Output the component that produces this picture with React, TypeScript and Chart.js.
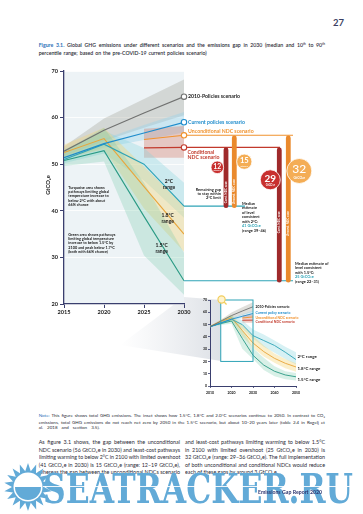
import React, { useEffect, useLayoutEffect, useRef } from 'react';
import { Chart, registerables } from 'chart.js';
Chart.register(...registerables);

// ---------------- data (main chart) ----------------
const years = [2015, 2020, 2025, 2030];
const policies2010 = [52.8, 57.3, 61.0, 64.5];
const policies2010Low = [51.8, 55.0, 57.8, 60.5];
const policies2010High = [53.8, 59.8, 64.0, 68.2];
const currentPolicies = [51.4, 54.4, 56.7, 59.0];
const currentLow = [51.0, 53.6, 55.2, 56.8];
const currentHigh = [51.9, 55.4, 58.4, 61.2];
const ndcYears = [2025, 2030];
const uncondNDC = [55.3, 56.2];
const condNDC = [53.5, 53.6];
const ndcLow = [51.4, 51.4];
const ndcHigh = [57.6, 58.2];
const path2C = [51.0, 54.3, 50.0, 41.0];
const path2CLow = [50.2, 52.3, 46.5, 38.5];
const path2CHigh = [53.2, 57.2, 53.5, 46.0];
const path18 = [52.5, 55.5, 45.2, 35.0];
const path18Low = [51.2, 53.2, 40.5, 31.2];
const path18High = [54.2, 57.8, 49.5, 41.0];
const path15 = [50.8, 52.9, 38.8, 25.0];
const path15Low = [49.6, 50.6, 30.4, 22.0];
const path15High = [52.8, 57.8, 46.0, 31.0];

const xTicks = [2015, 2020, 2025, 2030];
const yTicks = [20, 30, 40, 50, 60, 70];

const scenarioNames = ['2010-Policies scenario', 'Current policies scenario', 'Unconditional NDC scenario', 'Conditional NDC scenario'];
const scenario2030 = [64.5, 59.0, 56.2, 53.6];
const target2C = 41;
const target15 = 25;
const gapBarTops = [53.6, 56.2, 53.6, 56.2];
const gapBarBottoms = [41, 41, 25, 25];
const gapBarNames = ['Cond. NDC case', 'Uncond. NDC case', 'Cond. NDC case', 'Uncond. NDC case'];
const gapValues = ['12', '15', '29', '32'];

// ---------------- data (inset) ----------------
const insetYears = [2010, 2015, 2020, 2025, 2030, 2035, 2040, 2045, 2050];
const insetPolicyYears = [2010, 2015, 2020, 2025, 2030];
const insetPolicies2010 = [48.2, 52.8, 57.3, 61.0, 64.5];
const insetPolicies2010Low = [47.8, 51.8, 55.0, 57.8, 60.5];
const insetPolicies2010High = [48.6, 53.8, 59.8, 64.0, 68.2];
const insetCurrent = [48.0, 51.4, 54.4, 56.7, 59.0];
const insetCurrentLow = [47.7, 51.0, 53.6, 55.2, 56.8];
const insetCurrentHigh = [48.3, 51.9, 55.4, 58.4, 61.2];
const inset2C = [48.5, 51.0, 54.3, 50.0, 41.0, 37.0, 33.0, 27.5, 21.5];
const inset2CLow = [48.0, 50.2, 52.3, 46.5, 38.5, 32.0, 27.0, 22.0, 17.5];
const inset2CHigh = [49.0, 53.2, 57.2, 53.5, 46.0, 42.0, 37.0, 32.0, 27.5];
const inset18 = [48.5, 52.5, 55.5, 45.2, 35.0, 28.0, 22.5, 18.5, 15.5];
const inset18Low = [48.0, 51.2, 53.2, 40.5, 31.2, 24.0, 19.0, 14.5, 11.5];
const inset18High = [49.0, 54.2, 57.8, 49.5, 41.0, 33.0, 26.5, 22.0, 18.5];
const inset15 = [48.5, 50.8, 52.9, 38.8, 25.0, 17.0, 12.0, 9.0, 7.5];
const inset15Low = [48.0, 49.6, 50.6, 30.4, 22.0, 13.0, 8.0, 5.5, 4.5];
const inset15High = [49.0, 52.8, 57.8, 46.0, 31.0, 23.0, 16.0, 12.0, 10.5];
const insetXTicks = [2010, 2020, 2030, 2040, 2050];
const insetYTicks = [0, 10, 20, 30, 40, 50, 60, 70];
const insetScenarioNames = ['2010-Policies scenario', 'Current policy scenario', 'Unconditional NDC scenario', 'Conditional NDC scenario'];
const insetRangeNames = ['2°C range', '1.8°C range', '1.5°C range'];

// ---------------- style ----------------
const FONT = 'Lato, "Open Sans", "DejaVu Sans", sans-serif';
const NAVY = '#3a3f6e';
const GRAY_LINE = '#707170';
const BLUE = '#1f8ccc';
const ORANGE = '#f0922e';
const RED = '#c23a2c';
const TEAL = '#2ea3b6';
const YEL = '#e9a53a';
const GREEN = '#2a9a84';
const DARKRED = '#9f2a2b';
const BARORANGE = '#ea8a2d';
const CIRC_ORANGE = '#f4ad55';
const CIRC_RED = '#c8302f';
const INK = '#1b1b1b';
const WM = '#62aad7';

const BAND_GRAY = 'rgba(160,160,150,0.34)';
const BAND_CUR = 'rgba(150,210,235,0.4)';
const BAND_NDC = 'rgba(215,115,95,0.34)';
const BAND_2C = 'rgba(130,210,220,0.32)';
const BAND_18 = 'rgba(245,210,110,0.36)';
const BAND_15 = 'rgba(110,200,165,0.27)';

function pts(xs: number[], ys: number[]) {
  return xs.map((x, i) => ({ x, y: ys[i] }));
}
function lineDs(xs: number[], ys: number[], color: string, width: number) {
  return { data: pts(xs, ys), borderColor: color, borderWidth: width, pointRadius: 0, fill: false, tension: 0, order: 0 };
}
function bandDs(xs: number[], hi: number[], lo: number[], color: string, order: number) {
  return [
    { data: pts(xs, hi), borderColor: 'rgba(0,0,0,0)', borderWidth: 0, pointRadius: 0, fill: '+1', backgroundColor: color, tension: 0, order },
    { data: pts(xs, lo), borderColor: 'rgba(0,0,0,0)', borderWidth: 0, pointRadius: 0, fill: false, tension: 0, order },
  ];
}

function txt(ctx: CanvasRenderingContext2D, s: string, x: number, y: number, size: number, color: string, align: CanvasTextAlign = 'left', weight = 'bold') {
  ctx.font = `${weight} ${size}px ${FONT}`;
  ctx.fillStyle = color;
  ctx.textAlign = align;
  ctx.textBaseline = 'middle';
  ctx.fillText(s, x, y);
}

const mainPlugin = {
  id: 'mainDecor',
  beforeDraw(chart: any) {
    const { ctx, chartArea: a } = chart;
    ctx.save();
    ctx.fillStyle = '#edf3f6';
    ctx.fillRect(a.left, a.top, a.right - a.left, a.bottom - a.top);
    ctx.restore();
  },
  afterDatasetsDraw(chart: any) {
    const { ctx, scales } = chart;
    const Y = (v: number) => scales.y.getPixelForValue(v);
    const X = (v: number) => scales.x.getPixelForValue(v);
    const x30 = X(2030);
    ctx.save();
    const hline = (v: number, len: number, color: string) => {
      ctx.strokeStyle = color;
      ctx.lineWidth = 1.1;
      ctx.beginPath();
      ctx.moveTo(x30, Y(v));
      ctx.lineTo(x30 + len, Y(v));
      ctx.stroke();
    };
    hline(scenario2030[2], 109, ORANGE);
    hline(scenario2030[3], 96, RED);
    hline(target2C, 61, TEAL);
    hline(target15, 109, TEAL);

    // gap bars
    const barDx = [42, 50.3, 95.3, 104.3];
    const barColor = [DARKRED, BARORANGE, DARKRED, BARORANGE];
    const nameStart = [Y(target2C) - 3, Y(target2C) - 2, Y(target2C) + 27, Y(target2C) + 30];
    gapBarTops.forEach((top, i) => {
      const bx = x30 + barDx[i];
      const t = Y(top) + 2.6;
      const b = Y(gapBarBottoms[i]) - 0.5;
      ctx.strokeStyle = barColor[i];
      ctx.lineWidth = 4.8;
      ctx.lineCap = 'round';
      ctx.beginPath();
      ctx.moveTo(bx, t);
      ctx.lineTo(bx, b);
      ctx.stroke();
      ctx.save();
      ctx.translate(bx + 0.2, nameStart[i]);
      ctx.rotate(-Math.PI / 2);
      txt(ctx, gapBarNames[i], 0, 0, 3, '#ffffff', 'left');
      ctx.restore();
    });
    ctx.lineCap = 'butt';

    // gap bubbles
    const bub = [
      { dx: 33.3, y: 167.3, r: 6.3, c: CIRC_RED, fs: 6.8 },
      { dx: 60.3, y: 161.7, r: 7.6, c: CIRC_ORANGE, fs: 7.6 },
      { dx: 86.3, y: 179.8, r: 10, c: CIRC_RED, fs: 10 },
      { dx: 115.3, y: 171, r: 12.5, c: CIRC_ORANGE, fs: 12 },
    ];
    bub.forEach((b, i) => {
      const cx = x30 + b.dx;
      ctx.beginPath();
      ctx.arc(cx, b.y, b.r, 0, Math.PI * 2);
      ctx.fillStyle = b.c;
      ctx.fill();
      ctx.lineWidth = 0.8;
      ctx.strokeStyle = '#ffffff';
      ctx.stroke();
      txt(ctx, gapValues[i], cx, b.y - b.r * 0.15, b.fs, '#ffffff', 'center', i === 3 ? '500' : 'bold');
      txt(ctx, 'GtCO₂e', cx, b.y + b.r * 0.55, Math.max(2.2, b.r * 0.27), '#ffffff', 'center', 'bold');
    });

    // scenario rings at 2030
    const scColor = [GRAY_LINE, BLUE, ORANGE, RED];
    scenario2030.forEach((v, i) => {
      ctx.beginPath();
      ctx.arc(x30, Y(v), 2.7, 0, Math.PI * 2);
      ctx.fillStyle = '#ffffff';
      ctx.fill();
      ctx.lineWidth = 1.1;
      ctx.strokeStyle = scColor[i];
      ctx.stroke();
    });
    txt(ctx, scenarioNames[0], x30 + 4, Y(scenario2030[0]), 5.2, INK);
    txt(ctx, scenarioNames[1], x30 + 4, Y(scenario2030[1]), 5.2, BLUE);
    txt(ctx, scenarioNames[2], x30 + 4, Y(scenario2030[2]) - 3.6, 5.2, ORANGE);
    const condParts = scenarioNames[3].split(' ');
    txt(ctx, condParts[0], x30 + 3.5, Y(scenario2030[3]) + 4.4, 5.2, RED);
    txt(ctx, condParts.slice(1).join(' '), x30 + 3.5, Y(scenario2030[3]) + 9.6, 5.2, RED);

    // range labels inside the chart
    txt(ctx, '2°C', 169, 181, 5, INK, 'center');
    txt(ctx, 'range', 169, 187.6, 5, INK, 'center');
    txt(ctx, '1.8°C', 167.7, 215, 5, INK, 'center');
    txt(ctx, 'range', 167.7, 221.3, 5, INK, 'center');
    txt(ctx, '1.5°C', 161.7, 245, 5, INK, 'center');
    txt(ctx, 'range', 161.7, 251.5, 5, INK, 'center');

    const turq = ['Turquoise area shows', 'pathways limiting global', 'temperature increase to', 'below 2°C with about', '66% chance'];
    turq.forEach((s, i) => txt(ctx, s, 68.3, 187.3 + i * 4.4, 3.8, INK));
    const green = ['Green area shows pathways', 'limiting global temperature', 'increase to below 1.5°C by', '2100 and peak below 1.7°C', '(both with 66% chance)'];
    green.forEach((s, i) => txt(ctx, s, 68.3, 234.3 + i * 4.4, 3.8, INK));

    // right-hand notes
    const rem = ['Remaining gap', 'to stay within', '2°C limit'];
    rem.forEach((s, i) => txt(ctx, s, x30 + 37, 189.3 + i * 4, 3.9, INK, 'right'));
    const med2 = ['Median', 'estimate', 'of level', 'consistent', 'with 2°C:', '41 GtCO₂e', '(range 39–46)'];
    med2.forEach((s, i) => txt(ctx, s, x30 + 58, 203.3 + i * 4.5, 3.9, i === 5 ? TEAL : INK));
    const med15 = ['Median estimate of', 'level consistent', 'with 1.5°C:', '25 GtCO₂e', '(range 22–31)'];
    med15.forEach((s, i) => txt(ctx, s, x30 + 111, 263.3 + i * 4.6, 3.9, i === 3 ? TEAL : INK));

    // y axis title
    ctx.save();
    ctx.translate(48, 185);
    ctx.rotate(-Math.PI / 2);
    txt(ctx, 'GtCO₂e', 0, 0, 5.8, INK, 'center');
    ctx.restore();
    ctx.restore();
  },
};

const insetPlugin = {
  id: 'insetDecor',
  afterDatasetsDraw(chart: any) {
    const { ctx, scales, chartArea: a } = chart;
    const Y = (v: number) => scales.y.getPixelForValue(v);
    const X = (v: number) => scales.x.getPixelForValue(v);
    ctx.save();
    ctx.strokeStyle = TEAL;
    ctx.lineWidth = 1;
    ctx.strokeRect(X(2015), Y(70), X(2030) - X(2015), Y(20) - Y(70));
    // magnifier icon
    const mx = X(2015) + 0.8, my = Y(70) - 0.5;
    ctx.strokeStyle = '#f2cd5c';
    ctx.lineWidth = 1.2;
    ctx.beginPath();
    ctx.moveTo(mx + 2.5, my + 2.5);
    ctx.lineTo(mx + 5, my + 5);
    ctx.stroke();
    ctx.beginPath();
    ctx.arc(mx, my, 3.6, 0, Math.PI * 2);
    ctx.fillStyle = '#fdf3cf';
    ctx.fill();
    ctx.stroke();
    // labels
    const x30 = X(2030) + 2.5;
    txt(ctx, insetScenarioNames[0], x30, Y(64.5) + 0.2, 3.4, INK);
    txt(ctx, insetScenarioNames[1], x30, Y(59.3), 3.4, BLUE);
    txt(ctx, insetScenarioNames[2], x30, Y(55.7), 3.4, ORANGE);
    txt(ctx, insetScenarioNames[3], x30, Y(52.0), 3.4, RED);
    const xr = a.right + 1.5;
    txt(ctx, insetRangeNames[0], xr, Y(24.2), 4.4, INK);
    txt(ctx, insetRangeNames[1], xr, Y(13.9), 4.4, INK);
    txt(ctx, insetRangeNames[2], xr, Y(5.6), 4.4, INK);
    ctx.restore();
  },
};

function MainChart() {
  const ref = useRef<HTMLCanvasElement>(null);
  useEffect(() => {
    if (!ref.current) return;
    const chart = new Chart(ref.current, {
      type: 'line',
      data: {
        datasets: [
          ...bandDs(years, policies2010High, policies2010Low, BAND_GRAY, 20),
          ...bandDs(years, currentHigh, currentLow, BAND_CUR, 19),
          ...bandDs(ndcYears, ndcHigh, ndcLow, BAND_NDC, 18),
          ...bandDs(years, path2CHigh, path2CLow, BAND_2C, 17),
          ...bandDs(years, path18High, path18Low, BAND_18, 16),
          ...bandDs(years, path15High, path15Low, BAND_15, 15),
          lineDs(years, policies2010, GRAY_LINE, 1.1),
          lineDs(years, currentPolicies, BLUE, 1.2),
          lineDs(ndcYears, uncondNDC, ORANGE, 1.1),
          lineDs(ndcYears, condNDC, RED, 1.1),
          lineDs(years, path2C, TEAL, 1.1),
          lineDs(years, path18, YEL, 1.1),
          lineDs(years, path15, GREEN, 1.1),
        ] as any,
      },
      options: {
        responsive: false,
        animation: false,
        devicePixelRatio: 1,
        layout: { padding: { left: 0, right: 179, top: 71, bottom: 14 } },
        plugins: { legend: { display: false }, tooltip: { enabled: false } },
        scales: {
          x: {
            type: 'linear',
            min: 2015,
            max: 2030,
            afterBuildTicks: (s: any) => { s.ticks = xTicks.map((v) => ({ value: v })); },
            afterFit: (s: any) => { s.height = 22; },
            grid: { drawOnChartArea: false, drawTicks: true, tickLength: 4, tickColor: NAVY, tickWidth: 1 },
            border: { color: NAVY, width: 1.3 },
            ticks: { color: INK, font: { family: FONT, size: 5.6, weight: 'bold' }, padding: 1, maxRotation: 0, autoSkip: false, callback: (v: any) => String(v) },
          },
          y: {
            type: 'linear',
            min: 20,
            max: 70,
            afterBuildTicks: (s: any) => { s.ticks = yTicks.map((v) => ({ value: v })); },
            afterFit: (s: any) => { s.width = 64; },
            grid: { color: '#ffffff', lineWidth: 0.8, tickColor: NAVY, tickLength: 4, tickWidth: 1 },
            border: { color: NAVY, width: 1.3 },
            ticks: { color: INK, font: { family: FONT, size: 5.6, weight: 'bold' }, padding: 2, callback: (v: any) => String(v) },
          },
        },
      } as any,
      plugins: [mainPlugin],
    });
    return () => chart.destroy();
  }, []);
  return <canvas ref={ref} width={363} height={340} style={{ position: 'absolute', left: 0, top: 0, width: 363, height: 340 }} />;
}

function InsetChart() {
  const ref = useRef<HTMLCanvasElement>(null);
  useEffect(() => {
    if (!ref.current) return;
    const chart = new Chart(ref.current, {
      type: 'line',
      data: {
        datasets: [
          ...bandDs(insetPolicyYears, insetPolicies2010High, insetPolicies2010Low, BAND_GRAY, 20),
          ...bandDs(insetPolicyYears, insetCurrentHigh, insetCurrentLow, BAND_CUR, 19),
          ...bandDs(ndcYears, ndcHigh, ndcLow, BAND_NDC, 18),
          ...bandDs(insetYears, inset2CHigh, inset2CLow, BAND_2C, 17),
          ...bandDs(insetYears, inset18High, inset18Low, BAND_18, 16),
          ...bandDs(insetYears, inset15High, inset15Low, BAND_15, 15),
          lineDs(insetPolicyYears, insetPolicies2010, GRAY_LINE, 0.9),
          lineDs(insetPolicyYears, insetCurrent, BLUE, 0.9),
          lineDs(ndcYears, uncondNDC, ORANGE, 0.9),
          lineDs(ndcYears, condNDC, RED, 0.9),
          lineDs(insetYears, inset2C, TEAL, 0.9),
          lineDs(insetYears, inset18, YEL, 0.9),
          lineDs(insetYears, inset15, GREEN, 0.9),
        ] as any,
      },
      options: {
        responsive: false,
        animation: false,
        devicePixelRatio: 1,
        layout: { padding: { left: 0, right: 67, top: 10, bottom: 4 } },
        plugins: { legend: { display: false }, tooltip: { enabled: false } },
        scales: {
          x: {
            type: 'linear',
            min: 2010,
            max: 2050,
            afterBuildTicks: (s: any) => { s.ticks = insetXTicks.map((v) => ({ value: v })); },
            afterFit: (s: any) => { s.height = 12; },
            grid: { drawOnChartArea: false, drawTicks: true, tickLength: 2, tickColor: NAVY, tickWidth: 0.8 },
            border: { color: NAVY, width: 1 },
            ticks: { color: INK, font: { family: FONT, size: 3.5, weight: 'bold' }, padding: 3, maxRotation: 0, autoSkip: false, callback: (v: any) => String(v) },
          },
          y: {
            type: 'linear',
            min: 0,
            max: 70,
            afterBuildTicks: (s: any) => { s.ticks = insetYTicks.map((v) => ({ value: v })); },
            afterFit: (s: any) => { s.width = 20; },
            grid: { drawOnChartArea: false, drawTicks: true, tickLength: 2, tickColor: NAVY, tickWidth: 0.8 },
            border: { color: NAVY, width: 1 },
            ticks: { color: INK, font: { family: FONT, size: 3.5, weight: 'bold' }, padding: 1, callback: (v: any) => String(v) },
          },
        },
      } as any,
      plugins: [insetPlugin],
    });
    return () => chart.destroy();
  }, []);
  return <canvas ref={ref} width={173} height={112} style={{ position: 'absolute', left: 190, top: 290, width: 173, height: 112 }} />;
}

type LineProps = { x: number; y: number; size: number; w?: number; weight?: number | string; color?: string; children: React.ReactNode };
function Line({ x, y, size, w, weight = 400, color = '#222', children }: LineProps) {
  const ref = useRef<HTMLDivElement>(null);
  useLayoutEffect(() => {
    const el = ref.current;
    if (!el || !w) return;
    el.style.wordSpacing = '0px';
    el.style.transform = 'none';
    const nat = el.getBoundingClientRect().width;
    const text = el.textContent || '';
    const spaces = (text.match(/ /g) || []).length;
    if (nat < w && spaces > 0 && (w - nat) / spaces < size * 0.7) {
      el.style.wordSpacing = `${(w - nat) / spaces}px`;
    } else if (nat > 0) {
      el.style.transform = `scaleX(${w / nat})`;
    }
  }, [w]);
  return (
    <div
      ref={ref}
      style={{ position: 'absolute', left: x, top: y - size * 0.56, fontSize: size, lineHeight: 1, whiteSpace: 'pre', fontFamily: FONT, fontWeight: weight as any, color, transformOrigin: 'left top' }}
    >
      {children}
    </div>
  );
}

const sup = (s: string) => <span style={{ fontSize: '0.6em', verticalAlign: '0.5em' }}>{s}</span>;

function Watermark() {
  const cx = 28, cy = 487, rO = 24, rI = 16, n = 18;
  const star: string[] = [];
  for (let i = 0; i < n * 2; i++) {
    const r = i % 2 === 0 ? rO : rI;
    const ang = (i * Math.PI) / n - Math.PI / 2;
    star.push(`${(cx + r * Math.cos(ang)).toFixed(2)},${(cy + r * Math.sin(ang)).toFixed(2)}`);
  }
  const rd = 13;
  return (
    <svg width={363} height={514} style={{ position: 'absolute', left: 0, top: 0 }}>
      <polygon points={star.join(' ')} fill={WM} />
      <circle cx={cx} cy={cy} r={rd + 1.5} fill="#ffffff" />
      <path d={`M ${cx - rd} ${cy} A ${rd} ${rd} 0 0 0 ${cx + rd} ${cy} Z`} fill={WM} />
      <text x={43} y={503} fontFamily='"DejaVu Serif", "Liberation Serif", serif' fontWeight="bold" fontSize={41} fill={WM} textLength={310} lengthAdjust="spacingAndGlyphs">
        SEATRACKER.RU
      </text>
      <rect x={43} y={486} width={310} height={0.9} fill="#ffffff" />
    </svg>
  );
}

function Wedge() {
  return (
    <svg width={363} height={514} style={{ position: 'absolute', left: 0, top: 0 }}>
      <defs>
        <linearGradient id="wg" x1="0" y1="0" x2="1" y2="0">
          <stop offset="0" stopColor="#dfe3e8" stopOpacity="0" />
          <stop offset="1" stopColor="#d9dde3" stopOpacity="0.9" />
        </linearGradient>
      </defs>
      <polygon points="120,345 184,297 221,300 221,361" fill="url(#wg)" />
    </svg>
  );
}

export default function App() {
  const L = 38.7;
  return (
    <div style={{ position: 'absolute', left: 0, top: 0, width: 363, height: 514, overflow: 'hidden', background: '#ffffff' }}>
      <Line x={333} y={23.5} size={9.5} weight={700} color="#3a3f63">27</Line>
      <Line x={L} y={45.7} size={5.2} w={286.3} weight={600} color="#2a2a36">
        <span style={{ color: '#2c6fb7', fontWeight: 700 }}>Figure 3.1.</span> Global GHG emissions under different scenarios and the emissions gap in 2030 (median and 10{sup('th')} to 90{sup('th')}
      </Line>
      <Line x={L} y={54.3} size={5.2} w={168} weight={600} color="#2a2a36">percentile range; based on the pre-COVID-19 current policies scenario)</Line>

      <Wedge />
      <MainChart />
      <InsetChart />

      <Line x={L} y={416.7} size={4.5} w={286.3} color="#2a2a36">
        <span style={{ color: '#2c6fb7' }}>Note:</span> This figure shows total GHG emissions. The inset shows how 1.5°C, 1.8°C and 2.0°C scenarios continue to 2050. In contrast to CO₂
      </Line>
      <Line x={L} y={423.3} size={4.5} w={286.3} color="#2a2a36">emissions, total GHG emissions do not reach net zero by 2050 in the 1.5°C scenario, but about 10–20 years later (table 2.4 in Rogelj et</Line>
      <Line x={L} y={429} size={4.5} w={61} color="#2a2a36">al. 2018 and section 3.5).</Line>

      <Line x={L} y={442.7} size={5.4} w={141.3} color="#2a2a36">As figure 3.1 shows, the gap between the unconditional</Line>
      <Line x={L} y={450.7} size={5.4} w={141.3} color="#2a2a36">NDC scenario (56 GtCO₂e in 2030) and least-cost pathways</Line>
      <Line x={L} y={458.3} size={5.4} w={141.3} color="#2a2a36">limiting warming to below 2°C in 2100 with limited overshoot</Line>
      <Line x={L} y={466} size={5.4} w={141.3} color="#2a2a36">(41 GtCO₂e in 2030) is 15 GtCO₂e (range: 12–19 GtCO₂e),</Line>
      <Line x={L} y={473.3} size={5.4} w={141.3} color="#2a2a36">whereas the gap between the unconditional NDCs scenario</Line>

      <Line x={185} y={442.7} size={5.4} w={140} color="#2a2a36">and least-cost pathways limiting warming to below 1.5°C</Line>
      <Line x={185} y={450.7} size={5.4} w={140} color="#2a2a36">in 2100 with limited overshoot (25 GtCO₂e in 2030) is</Line>
      <Line x={185} y={458.3} size={5.4} w={140} color="#2a2a36">32 GtCO₂e (range: 29–36 GtCO₂e). The full implementation</Line>
      <Line x={185} y={466} size={5.4} w={140} color="#2a2a36">of both unconditional and conditional NDCs would reduce</Line>
      <Line x={185} y={473.3} size={5.4} w={93} color="#2a2a36">each of these gaps by around 3 GtCO₂e.</Line>

      <Watermark />
      <Line x={258} y={493.3} size={5.2} w={64} weight={700} color="#2d3570">Emissions Gap Report 2020</Line>
    </div>
  );
}
